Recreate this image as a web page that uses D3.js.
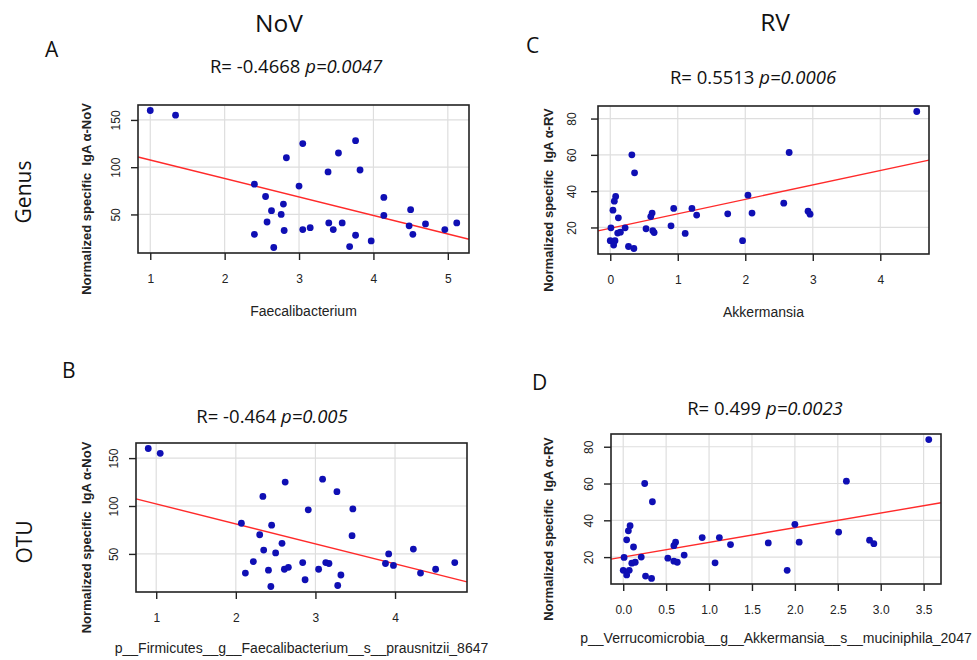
<!DOCTYPE html>
<html>
<head>
<meta charset="utf-8">
<script src="https://cdn.jsdelivr.net/npm/d3@7"></script>
<style>
  body { margin: 0; background: #fff; }
  svg { display: block; }
  .head { font-family: "Open Sans", "Noto Sans", sans-serif; fill: #111; }
  .ax { font-family: "Liberation Sans", Arial, sans-serif; fill: #222; }
</style>
</head>
<body>
<script>
// Panel A: Genus, NoV  (Faecalibacterium vs IgA a-NoV)
var aX = [1.0, 1.34, 2.40, 2.40, 2.55, 2.57, 2.63, 2.66, 2.76, 2.79, 2.80, 2.83, 3.0, 3.05, 3.05, 3.15,
  3.39, 3.40, 3.46, 3.53, 3.58, 3.68, 3.76, 3.76, 3.82, 3.97, 4.14, 4.14, 4.50, 4.48, 4.53, 4.70, 4.96, 5.12]
var aY = [160, 155, 82, 29, 69, 42, 54, 15, 50, 61, 33, 110, 80, 125, 34, 36,
  95, 41, 34, 115, 41, 16, 128, 28, 97, 22, 68, 49, 55, 38, 29, 40, 34, 41]
var aFit = [127.1, -19.55]

// Panel C: Genus, RV  (Akkermansia vs IgA a-RV)
var cX = [4.54, 2.65, 0.32, 0.36, 2.04, 0.08, 0.06, 0.04, 0.12, 0.94, 1.21, 1.28, 1.74, 2.10, 2.57, 2.93, 2.96,
  0.62, 0.60, 0.01, 0.22, 0.53, 0.90, 0.11, 0.15, 0.63, 0.65, 1.11, 0.0, 0.07, 0.05, 0.27, 0.35, 1.96]
var cY = [83.9, 61.3, 60, 50.1, 37.8, 37.1, 34.5, 29.5, 25.3, 30.5, 30.5, 26.8, 27.5, 27.9, 33.4, 29, 27.3,
  27.9, 26, 19.8, 19.8, 19.3, 20.9, 16.9, 17.4, 18.2, 17.2, 16.7, 12.7, 12.7, 10.3, 9.5, 8.4, 12.7]
var cFit = [19.55, 7.96]

// Panel B: OTU, NoV  (F. prausnitzii 8647 vs IgA a-NoV)
var bX = [0.90, 1.05, 2.07, 2.34, 2.12, 2.22, 2.30, 2.35, 2.41, 2.44, 2.45, 2.50, 2.58, 2.62, 2.61, 2.66,
  2.84, 2.87, 2.91, 3.04, 3.09, 3.13, 3.17, 3.27, 3.28, 3.32, 3.46, 3.47, 3.88, 3.92, 3.98, 4.23, 4.32, 4.51, 4.75]
var bY = [160, 155, 82, 110, 30, 42, 70, 54, 33, 16, 80, 51, 61, 125, 34, 36,
  41, 23, 96, 34, 128, 41, 40, 115, 17, 28, 69, 97, 40, 50, 38, 55, 30, 34, 41]
var bFit = [123.0, -20.84]

// Panel D: OTU, RV  (A. muciniphila 2047 vs IgA a-RV)
var dX = [3.56, 2.60, 0.25, 0.34, 2.0, 0.08, 0.06, 0.04, 0.12, 0.92, 1.12, 1.25, 1.69, 2.05, 2.51, 2.87, 2.92,
  0.61, 0.59, 0.01, 0.21, 0.52, 0.71, 0.10, 0.14, 0.59, 0.63, 1.07, 0.0, 0.07, 0.04, 0.26, 0.33, 1.91]
var dY = [83.9, 61.3, 60, 50.1, 37.8, 37.1, 34.3, 29.4, 25.5, 30.6, 30.6, 26.8, 27.7, 28.1, 33.6, 29.2, 27.3,
  28.1, 26.2, 19.8, 20, 19.4, 21.1, 16.7, 17.2, 17.8, 17.2, 16.9, 12.8, 12.8, 10.3, 9.7, 8.4, 12.8]
var dFit = [20.04, 7.97]

// tick values
var aXTicks = [1, 2, 3, 4, 5]
var cXTicks = [0, 1, 2, 3, 4]
var bXTicks = [1, 2, 3, 4]
var dXTicks = [0, 0.5, 1, 1.5, 2, 2.5, 3, 3.5]
var novYTicks = [50, 100, 150]
var rvYTicks = [20, 40, 60, 80]

// text
var titles = ["R= -0.4668 ", "R= 0.5513 ", "R= -0.464 ", "R= 0.499 "]
var pvals = ["p=0.0047", "p=0.0006", "p=0.005", "p=0.0023"]
var xLabels = ["Faecalibacterium", "Akkermansia",
  "p__Firmicutes__g__Faecalibacterium__s__prausnitzii_8647",
  "p__Verrucomicrobia__g__Akkermansia__s__muciniphila_2047"]
var yLabels = ["Normalized specific  IgA \u03b1-NoV", "Normalized specific  IgA \u03b1-RV"]

var svg = d3.select("body").append("svg")
  .attr("width", 977)
  .attr("height", 660)

// R pads the data range by 4% on each side
function rdomain(v) {
  var e = d3.extent(v)
  var d = (e[1] - e[0]) * 0.04
  return [e[0] - d, e[1] + d]
}

function drawPanel(p) {
  var x = d3.scaleLinear().domain(rdomain(p.xs)).range([p.left, p.right])
  var y = d3.scaleLinear().domain(rdomain(p.ys)).range([p.bottom, p.top])
  var g = svg.append("g")

  // grid
  g.selectAll("line.vg").data(p.xticks).enter().append("line")
    .attr("x1", d => x(d)).attr("x2", d => x(d))
    .attr("y1", p.top).attr("y2", p.bottom)
    .attr("stroke", "#dedede").attr("stroke-width", 1.2)
  g.selectAll("line.hg").data(p.yticks).enter().append("line")
    .attr("y1", d => y(d)).attr("y2", d => y(d))
    .attr("x1", p.left).attr("x2", p.right)
    .attr("stroke", "#dedede").attr("stroke-width", 1.2)

  // regression line
  var xd = x.domain()
  g.append("line")
    .attr("x1", x(xd[0])).attr("y1", y(p.fit[0] + p.fit[1] * xd[0]))
    .attr("x2", x(xd[1])).attr("y2", y(p.fit[0] + p.fit[1] * xd[1]))
    .attr("stroke", "#ff2a2a").attr("stroke-width", 1.4)

  // points
  g.selectAll("circle").data(p.xs).enter().append("circle")
    .attr("cx", d => x(d))
    .attr("cy", (d, i) => y(p.ys[i]))
    .attr("r", 3.4)
    .attr("fill", "#0f0fb4")

  // box
  g.append("rect")
    .attr("x", p.left).attr("y", p.top)
    .attr("width", p.right - p.left).attr("height", p.bottom - p.top)
    .attr("fill", "none").attr("stroke", "#222").attr("stroke-width", 1.6)

  // x axis
  var xa = g.append("g").attr("transform", "translate(0," + p.bottom + ")")
    .call(d3.axisBottom(x).tickValues(p.xticks).tickSize(7).tickPadding(14).tickFormat(p.xfmt))
  xa.select(".domain").remove()
  xa.selectAll("line").attr("stroke", "#222").attr("stroke-width", 1.4)
  xa.selectAll("text").attr("class", "ax").attr("font-size", 12)

  // y axis, labels parallel to the axis
  var ya = g.append("g").attr("transform", "translate(" + p.left + ",0)")
    .call(d3.axisLeft(y).tickValues(p.yticks).tickSize(7))
  ya.select(".domain").remove()
  ya.selectAll("line").attr("stroke", "#222").attr("stroke-width", 1.4)
  ya.selectAll("text").attr("class", "ax").attr("font-size", 12)
    .attr("x", 0).attr("dy", 0).attr("text-anchor", "middle")
    .attr("transform", "translate(" + (-p.ytickGap) + ",0) rotate(-90)")

  // axis titles
  g.append("text").attr("class", "ax")
    .attr("x", (p.left + p.right) / 2).attr("y", p.bottom + p.xlabGap)
    .attr("text-anchor", "middle").attr("font-size", 14)
    .text(p.xlab)
  g.append("text").attr("class", "ax")
    .attr("transform", "translate(" + (p.left - p.ylabGap) + "," + ((p.top + p.bottom) / 2 + 20) + ") rotate(-90)")
    .attr("text-anchor", "middle").attr("font-size", 13).attr("font-weight", "bold")
    .style("white-space", "pre")
    .text(p.ylab)

  // R / p title
  var t = g.append("text").attr("class", "head")
    .attr("x", p.tx).attr("y", p.ty)
    .attr("text-anchor", "middle").attr("font-size", 18.5)
    .style("white-space", "pre")
  t.append("tspan").text(p.title)
  t.append("tspan").attr("font-style", "italic").text(p.pval)
}

var fmt1 = d3.format("d")
var fmtDec = d3.format(".1f")

drawPanel({ xs: aX, ys: aY, fit: aFit, xticks: aXTicks, yticks: novYTicks, xfmt: fmt1,
  left: 138, right: 469, top: 105, bottom: 253, ytickGap: 18, xlabGap: 63, ylabGap: 47,
  xlab: xLabels[0], ylab: yLabels[0], title: titles[0], pval: pvals[0], tx: 296, ty: 73 })
drawPanel({ xs: cX, ys: cY, fit: cFit, xticks: cXTicks, yticks: rvYTicks, xfmt: fmt1,
  left: 598, right: 929, top: 106, bottom: 254, ytickGap: 22, xlabGap: 63, ylabGap: 45,
  xlab: xLabels[1], ylab: yLabels[1], title: titles[1], pval: pvals[1], tx: 753, ty: 84 })
drawPanel({ xs: bX, ys: bY, fit: bFit, xticks: bXTicks, yticks: novYTicks, xfmt: fmt1,
  left: 136, right: 467, top: 443, bottom: 592, ytickGap: 18, xlabGap: 61, ylabGap: 45,
  xlab: xLabels[2], ylab: yLabels[0], title: titles[2], pval: pvals[2], tx: 272, ty: 423 })
drawPanel({ xs: dX, ys: dY, fit: dFit, xticks: dXTicks, yticks: rvYTicks, xfmt: fmtDec,
  left: 611, right: 941, top: 434, bottom: 584, ytickGap: 18, xlabGap: 59, ylabGap: 58,
  xlab: xLabels[3], ylab: yLabels[1], title: titles[3], pval: pvals[3], tx: 765, ty: 415 })

// column and row headings, panel letters
var heads = [
  { t: "NoV", x: 279, y: 32, s: 24.5, a: "middle" },
  { t: "RV", x: 775, y: 31, s: 24.5, a: "middle" },
  { t: "A", x: 45, y: 57, s: 21, a: "start" },
  { t: "C", x: 526, y: 53, s: 21, a: "start" },
  { t: "B", x: 62, y: 378, s: 21, a: "start" },
  { t: "D", x: 532, y: 390, s: 21, a: "start" }
]
svg.selectAll("text.hd").data(heads).enter().append("text")
  .attr("class", "head")
  .attr("x", d => d.x).attr("y", d => d.y)
  .attr("font-size", d => d.s).attr("text-anchor", d => d.a)
  .text(d => d.t)

var rows = [{ t: "Genus", x: 31, y: 192 }, { t: "OTU", x: 32, y: 542 }]
svg.selectAll("text.rw").data(rows).enter().append("text")
  .attr("class", "head")
  .attr("transform", d => "translate(" + d.x + "," + d.y + ") rotate(-90)")
  .attr("text-anchor", "middle").attr("font-size", 21)
  .text(d => d.t)
</script>
</body>
</html>
